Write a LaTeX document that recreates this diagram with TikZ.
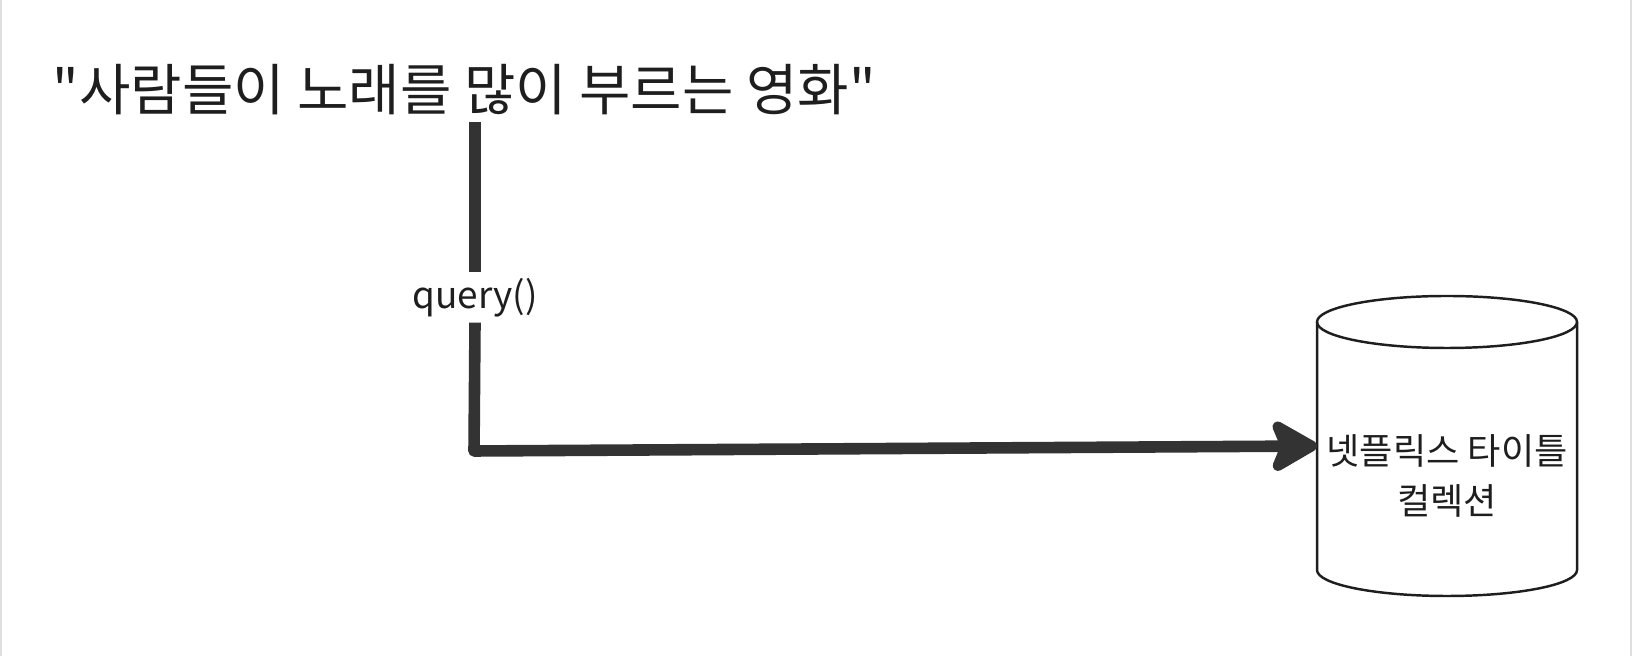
\documentclass[tikz,border=0pt]{standalone}
\usepackage{fontspec}
\newfontfamily\krfont{Noto Sans CJK KR}
\usetikzlibrary{arrows.meta}
\definecolor{ink}{HTML}{1E1E1E}
\definecolor{wire}{HTML}{333333}
\tikzset{
  flow/.style={draw=wire, line width=3.3pt, line join=round},
  dbline/.style={draw=ink, line width=0.7pt, line join=round},
  lbl/.style={text=ink, inner sep=0pt}
}

\begin{document}
\begin{tikzpicture}
\useasboundingbox (0,0) rectangle (16.32,6.56);
\draw[gray!25, line width=0.6pt] (0.01,0) -- (0.01,6.56);
\draw[gray!25, line width=0.6pt] (16.31,0) -- (16.31,6.56);
\node[lbl, anchor=base west, font=\krfont\fontsize{15.9}{19}\selectfont] (title) at (0.52,5.45) {"사람들이 노래를 많이 부르는 영화"};
\node[lbl, minimum height=0.49cm, font=\krfont\fontsize{10.5}{13}\selectfont] (q) at (4.75,3.585) {query()};
\node[lbl, align=center, font=\krfont\fontsize{10.3}{14.2}\selectfont] (coll) at (14.47,1.80) {넷플릭스 타이틀\\컬렉션};
% cylinder
\draw[dbline] (13.17,3.34) -- (13.17,0.86) arc[start angle=180, end angle=360, x radius=1.3, y radius=0.26] -- (15.77,3.34);
\draw[dbline] (14.47,3.34) ellipse[x radius=1.3, y radius=0.26];
\coordinate (dbin) at (13.17,2.10);
\coordinate (bend) at (4.74,2.05);
% connector
\draw[flow, shorten <=0.06cm] (q.north |- title.south) -- (q.north);
\draw[flow, -{Stealth[length=15.5pt, width=17.5pt, inset=3.5pt, round, fill=wire]}] (q.south) -- (bend) -- (dbin);
\end{tikzpicture}
\end{document}
